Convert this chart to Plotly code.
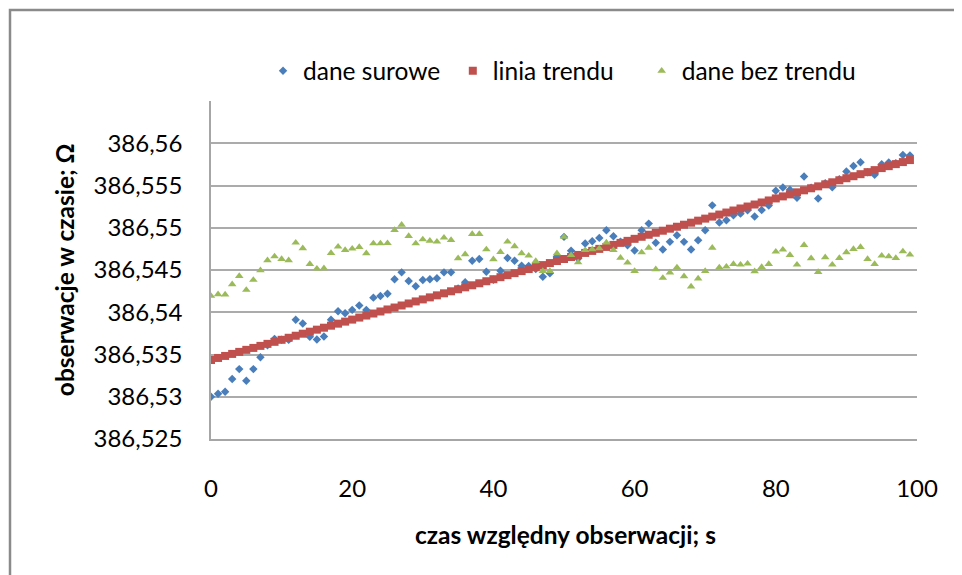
import plotly.graph_objects as go

# ---- data ----
time_s = list(range(100))

raw_data = [
    386.53000, 386.53035, 386.53060, 386.53209, 386.53327, 386.53190, 386.53327, 386.53468, 386.53610, 386.53685,
    386.53674, 386.53673, 386.53910, 386.53866, 386.53709, 386.53677, 386.53713, 386.53910, 386.54012, 386.53988,
    386.54028, 386.54079, 386.54028, 386.54173, 386.54193, 386.54220, 386.54390, 386.54472, 386.54370, 386.54307,
    386.54382, 386.54390, 386.54402, 386.54472, 386.54472, 386.54280, 386.54354, 386.54610, 386.54630, 386.54480,
    386.54385, 386.54492, 386.54642, 386.54610, 386.54551, 386.54547, 386.54512, 386.54421, 386.54461, 386.54660,
    386.54892, 386.54727, 386.54637, 386.54814, 386.54841, 386.54880, 386.54971, 386.54900, 386.54836, 386.54794,
    386.54731, 386.54971, 386.55049, 386.54822, 386.54743, 386.54833, 386.54912, 386.54833, 386.54743, 386.54853,
    386.54971, 386.55265, 386.55061, 386.55088, 386.55147, 386.55167, 386.55206, 386.55134, 386.55209, 386.55264,
    386.55437, 386.55476, 386.55449, 386.55354, 386.55606, 386.55475, 386.55346, 386.55528, 386.55480, 386.55574,
    386.55665, 386.55732, 386.55776, 386.55658, 386.55626, 386.55752, 386.55772, 386.55765, 386.55862, 386.55854,
]

trend_line = [
    386.53435, 386.53459, 386.53483, 386.53507, 386.53531, 386.53555, 386.53578, 386.53602, 386.53626, 386.53650,
    386.53674, 386.53698, 386.53722, 386.53746, 386.53770, 386.53794, 386.53817, 386.53841, 386.53865, 386.53889,
    386.53913, 386.53937, 386.53961, 386.53985, 386.54009, 386.54033, 386.54056, 386.54080, 386.54104, 386.54128,
    386.54152, 386.54176, 386.54200, 386.54224, 386.54248, 386.54272, 386.54295, 386.54319, 386.54343, 386.54367,
    386.54391, 386.54415, 386.54439, 386.54463, 386.54487, 386.54511, 386.54534, 386.54558, 386.54582, 386.54606,
    386.54630, 386.54654, 386.54678, 386.54702, 386.54726, 386.54750, 386.54773, 386.54797, 386.54821, 386.54845,
    386.54869, 386.54893, 386.54917, 386.54941, 386.54965, 386.54989, 386.55012, 386.55036, 386.55060, 386.55084,
    386.55108, 386.55132, 386.55156, 386.55180, 386.55204, 386.55228, 386.55251, 386.55275, 386.55299, 386.55323,
    386.55347, 386.55371, 386.55395, 386.55419, 386.55443, 386.55467, 386.55490, 386.55514, 386.55538, 386.55562,
    386.55586, 386.55610, 386.55634, 386.55658, 386.55682, 386.55706, 386.55729, 386.55753, 386.55777, 386.55801,
]

detrended = [
    386.54193, 386.54213, 386.54209, 386.54331, 386.54429, 386.54264, 386.54382, 386.54496, 386.54614, 386.54661,
    386.54630, 386.54614, 386.54823, 386.54756, 386.54571, 386.54516, 386.54520, 386.54701, 386.54776, 386.54736,
    386.54752, 386.54772, 386.54697, 386.54815, 386.54815, 386.54818, 386.54972, 386.55035, 386.54902, 386.54815,
    386.54862, 386.54846, 386.54835, 386.54882, 386.54854, 386.54638, 386.54685, 386.54925, 386.54925, 386.54744,
    386.54626, 386.54713, 386.54835, 386.54780, 386.54697, 386.54669, 386.54606, 386.54488, 386.54488, 386.54697,
    386.54892, 386.54676, 386.54590, 386.54735, 386.54743, 386.54755, 386.54825, 386.54735, 386.54645, 386.54586,
    386.54488, 386.54708, 386.54763, 386.54508, 386.54406, 386.54469, 386.54531, 386.54425, 386.54304, 386.54398,
    386.54488, 386.54763, 386.54531, 386.54539, 386.54570, 386.54563, 386.54575, 386.54484, 386.54535, 386.54571,
    386.54717, 386.54740, 386.54677, 386.54563, 386.54795, 386.54638, 386.54476, 386.54650, 386.54563, 386.54642,
    386.54709, 386.54748, 386.54772, 386.54630, 386.54571, 386.54669, 386.54661, 386.54642, 386.54720, 386.54681,
]

series_names = ["dane surowe", "linia trendu", "dane bez trendu"]

x_tick_vals = [0, 20, 40, 60, 80, 100]
y_tick_vals = [386.525, 386.53, 386.535, 386.54, 386.545, 386.55, 386.555, 386.56]
y_tick_text = ["386,525", "386,53", "386,535", "386,54", "386,545", "386,55", "386,555", "386,56"]

x_title = "czas względny obserwacji; s"
y_title = "obserwacje w czasie; Ω"

# ---- figure ----
FONT = "Lato, 'Open Sans', sans-serif"

fig = go.Figure()
fig.add_trace(go.Scatter(
    x=time_s, y=raw_data, mode="markers", name=series_names[0], legend="legend",
    marker=dict(symbol="diamond", size=6.5, color="#4A7EBB"),
))
fig.add_trace(go.Scatter(
    x=time_s, y=trend_line, mode="markers", name=series_names[1], legend="legend2",
    marker=dict(symbol="square", size=8, color="#C0504D"),
))
fig.add_trace(go.Scatter(
    x=time_s, y=detrended, mode="markers", name=series_names[2], legend="legend3",
    marker=dict(symbol="triangle-up", size=7.5, color="#9BBB59"),
))

legend_common = dict(
    orientation="h", y=1.089, xanchor="left", yanchor="middle",
    font=dict(family=FONT, size=24.5, color="#000000"),
    bgcolor="rgba(0,0,0,0)", itemsizing="trace",
)

fig.update_layout(
    width=954, height=567,
    margin=dict(l=203, r=45, t=93, b=136, autoexpand=False),
    paper_bgcolor="white", plot_bgcolor="white",
    font=dict(family=FONT, size=24, color="#000000"),
    showlegend=True,
    legend=dict(x=0.0737, **legend_common),
    legend2=dict(x=0.3425, **legend_common),
    legend3=dict(x=0.610, **legend_common),
    xaxis=dict(
        range=[0, 100], tickvals=x_tick_vals, showgrid=False, zeroline=False,
        showline=True, linecolor="#A6A6A6", linewidth=1.5, automargin=False,
        ticks="outside", ticklen=27, tickcolor="rgba(0,0,0,0)",
        tickfont=dict(family=FONT, size=24, color="#000000"),
    ),
    yaxis=dict(
        range=[386.525, 386.565], tickvals=y_tick_vals, ticktext=y_tick_text,
        showgrid=True, gridcolor="#ABABAB", gridwidth=1.5, zeroline=False,
        showline=True, linecolor="#A6A6A6", linewidth=1.5, automargin=False,
        ticks="outside", ticklen=22, tickcolor="rgba(0,0,0,0)",
        tickfont=dict(family=FONT, size=24, color="#000000"),
    ),
    annotations=[
        dict(text="<b>%s</b>" % x_title, xref="paper", yref="paper",
             x=0.502, y=-0.284, xanchor="center", yanchor="middle", showarrow=False,
             font=dict(family=FONT, size=24.5, color="#000000")),
        dict(text="<b>%s</b>" % y_title, xref="paper", yref="paper",
             x=-0.208, y=0.5, xanchor="center", yanchor="middle", showarrow=False,
             textangle=-90, font=dict(family=FONT, size=24.5, color="#000000")),
    ],
    shapes=[
        dict(type="rect", xref="paper", yref="paper",
             x0=-0.2847, y0=1.2692, x1=1.2, y1=-0.6,
             line=dict(color="#8A8A8A", width=2.5), fillcolor="rgba(0,0,0,0)", layer="below"),
    ],
)

fig.write_html("out.html")
